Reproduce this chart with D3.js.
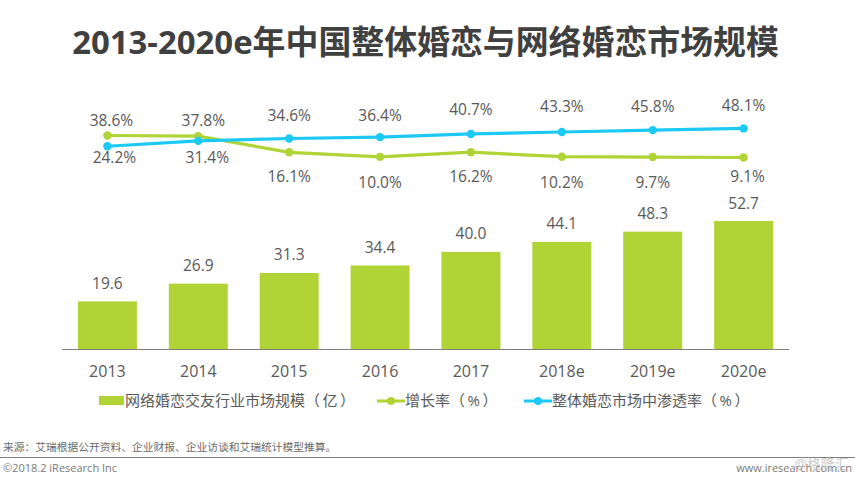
<!DOCTYPE html>
<html><head><meta charset="utf-8">
<script src="https://cdnjs.cloudflare.com/ajax/libs/d3/7.8.5/d3.min.js"></script>
<style>html,body{margin:0;padding:0;background:#fff}svg{display:block}
text{font-family:"Open Sans","Noto Sans CJK SC",sans-serif}</style></head>
<body><svg id="c" width="855" height="478"></svg>
<script>
const years=["2013","2014","2015","2016","2017","2018e","2019e","2020e"];
const marketSize=[19.6,26.9,31.3,34.4,40.0,44.1,48.3,52.7];
const growthRate=[38.6,37.8,16.1,10.0,16.2,10.2,9.7,9.1];
const penetration=[24.2,31.4,34.6,36.4,40.7,43.3,45.8,48.1];
const titleText="2013-2020e年中国整体婚恋与网络婚恋市场规模";
const legendLabels=["网络婚恋交友行业市场规模（\u2009亿\u2009）","增长率（\u2009%\u2009）","整体婚恋市场中渗透率（\u2009%\u2009）"];
const sourceText="来源：艾瑞根据公开资料、企业财报、企业访谈和艾瑞统计模型推算。";
const copyrightText="©2018.2 iResearch Inc";
const siteText="www.iresearch.com.cn";
const watermarkText="@格隆汇";

const green="#b0d335",blue="#1cc9f5",grey="#595959";
const growthLabelDy=[-15,-16,24,26,24,26,25,19];
const growthLabelDx=[4,5,0,0,0,0,0,4];
const penLabelDy=[11,17,-23,-22,-24,-25,-24,-23];
const penLabelDx=[7,9,0,0,0,0,0,0];

const svg=d3.select("#c");
const x=d3.scaleBand().domain(years).range([62,789]).paddingInner(0.351).paddingOuter(0.175);
const yBar=d3.scaleLinear().domain([0,52.7]).range([349,221]);
const yLine=d3.scaleLinear().domain([0,50]).range([164.3,127]);
const cx=d=>x(d)+x.bandwidth()/2;

svg.append("text").attr("x",425.5).attr("y",54).attr("text-anchor","middle")
 .attr("font-size",32.9).attr("font-weight",700).attr("fill","#404040").text(titleText);

svg.selectAll("rect.bar").data(years).join("rect").attr("class","bar")
 .attr("x",d=>x(d)).attr("width",x.bandwidth())
 .attr("y",(d,i)=>yBar(marketSize[i])).attr("height",(d,i)=>349-yBar(marketSize[i])).attr("fill",green);
svg.selectAll("text.val").data(years).join("text").attr("class","val")
 .attr("x",cx).attr("y",(d,i)=>yBar(marketSize[i])-12.5).attr("text-anchor","middle")
 .attr("font-size",15.5).attr("fill",grey).text((d,i)=>marketSize[i].toFixed(1));

const axis=svg.append("g").attr("transform","translate(0,349)")
 .call(d3.axisBottom(x).tickSize(0).tickPadding(17));
axis.select(".domain").attr("stroke","#7f7f7f").attr("stroke-width",1).attr("d","M62,0.5H789");
axis.selectAll("text").attr("font-size",16).attr("fill",grey);

function series(vals,color,dy,dx){
 const pts=years.map((d,i)=>[cx(d),yLine(vals[i])]);
 svg.append("path").attr("d",d3.line()(pts)).attr("fill","none").attr("stroke",color).attr("stroke-width",3.2);
 svg.append("g").selectAll("circle").data(pts).join("circle")
  .attr("cx",d=>d[0]).attr("cy",d=>d[1]).attr("r",4.2).attr("fill",color);
 svg.append("g").selectAll("text").data(years).join("text")
  .attr("x",(d,i)=>cx(d)+dx[i]).attr("y",(d,i)=>yLine(vals[i])+dy[i]+5.5).attr("text-anchor","middle")
  .attr("font-size",15.5).attr("fill",grey).text((d,i)=>vals[i].toFixed(1)+"%");
}
series(growthRate,green,growthLabelDy,growthLabelDx);
series(penetration,blue,penLabelDy,penLabelDx);

const lg=svg.append("g");
lg.append("rect").attr("x",99).attr("y",396).attr("width",25).attr("height",9).attr("fill",green);
lg.append("text").attr("x",125).attr("y",406).attr("font-size",15).attr("fill",grey).text(legendLabels[0]);
[[377,green,404,legendLabels[1]],[524,blue,551,legendLabels[2]]].forEach(([a,c,t,l])=>{
 lg.append("line").attr("x1",a).attr("x2",a+28).attr("y1",401).attr("y2",401).attr("stroke",c).attr("stroke-width",3);
 lg.append("circle").attr("cx",a+14).attr("cy",401).attr("r",4).attr("fill",c);
 lg.append("text").attr("x",t+1).attr("y",406).attr("font-size",15).attr("fill",grey).text(l);
});

svg.append("text").attr("x",3).attr("y",451).attr("font-size",10.75).attr("fill","#6a6a6a").text(sourceText);
svg.append("line").attr("x1",0).attr("x2",855).attr("y1",457.5).attr("y2",457.5).attr("stroke","#808080");
svg.append("text").attr("x",3).attr("y",472).attr("font-size",11).attr("fill","#7a7a7a").text(copyrightText);
svg.append("text").attr("x",852).attr("y",472).attr("text-anchor","end").attr("font-size",11).attr("fill","#7a7a7a").text(siteText);
svg.append("text").attr("x",849).attr("y",469).attr("text-anchor","end").attr("font-size",14).attr("fill","#b5b5b5").attr("opacity",.7).text(watermarkText);
</script></body></html>
